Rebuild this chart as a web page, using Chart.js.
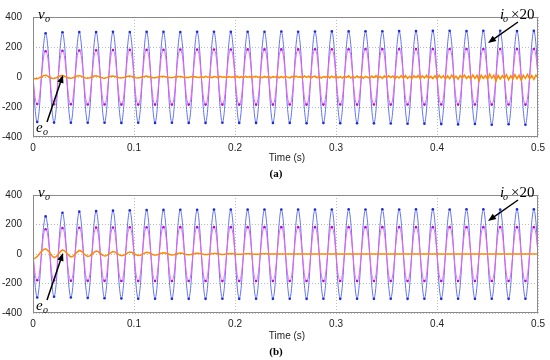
<!DOCTYPE html>
<html>
<head>
<meta charset="utf-8">
<script src="https://cdn.jsdelivr.net/npm/chart.js@4.4.0/dist/chart.umd.min.js"></script>
<style>
  html, body { margin: 0; padding: 0; background: #fff; }
  .panel { position: absolute; left: 0; width: 550px; }
  #panelA { top: 0; height: 180px; }
  #panelB { top: 178px; height: 182px; }
</style>
</head>
<body>
<div class="panel" id="panelA"><canvas id="chartA"></canvas></div>
<div class="panel" id="panelB"><canvas id="chartB"></canvas></div>
<script>
// 8 samples per 60 Hz cycle
const samplesPerSecond = 480;
const xTicks = [0, 0.1, 0.2, 0.3, 0.4, 0.5];
const yTicks = [-400, -200, 0, 200, 400];

// wave shape inside one half cycle (0, 45, 90, 135 deg)
const voShape = [0, 0.71, 1, 0.71];
const ioShape = [0, 0.76, 1, 0.76];

// (a) extreme value of every half cycle
const voPeaksA = [
  -300, 292, -304, 298, -305, 300, -305, 300, -305, 301,
  -306, 300, -305, 301, -306, 301, -305, 300, -306, 302,
  -306, 302, -305, 301, -306, 302, -306, 302, -307, 303,
  -306, 302, -308, 303, -307, 304, -308, 304, -308, 305,
  -309, 305, -310, 306, -312, 306, -311, 308, -314, 308,
  -316, 306, -313, 308, -318, 308, -315, 306, -318, 308
];
const ioPeaksA = [
  -180, 172, -182, 175, -182, 177, -183, 178, -183, 180,
  -184, 181, -184, 182, -184, 182, -184, 183, -184, 183,
  -184, 183, -184, 183, -184, 184, -184, 184, -184, 184,
  -183, 184, -184, 185, -184, 185, -183, 185, -184, 186,
  -183, 186, -184, 186, -183, 186, -184, 187, -183, 187,
  -184, 187, -183, 186, -184, 187, -183, 187, -184, 187
];
// (a) e_o samples
const eoA = [
  -10, -12, -12, -6, 2, 8, 12, 6, -2, -8, -10, -6, 2, 8, 10, 5,
  -2, -7, -9, -5, 1, 7, 9, 5, -1, -6, -8, -5, 1, 6, 8, 4,
  -1, -6, -8, -4, 1, 5, 7, 4, -1, -5, -7, -4, 1, 5, 6, 3,
  -1, -5, -6, -3, 2, 4, 6, 2, -2, -5, -5, -2, 2, 4, 5, 1,
  -2, -4, -5, -1, 3, 4, 3, 0, -3, -4, -3, 1, 3, 2, -1, -3,
  2, -3, 4, -2, 1, -4, 3, 0, -3, 4, -2, 2, -4, 3, -1, 2,
  -3, 5, -4, 2, -5, 4, -1, 3, -5, 2, 4, -3, 1, -4, 5, -2,
  4, -6, 3, -2, 6, -5, 2, -4, 5, -1, -6, 4, -3, 6, -2, 3,
  -6, 7, -3, 5, -7, 2, 6, -5, 4, -7, 3, -2, 7, -6, 5, -4,
  7, -5, 3, -7, 6, -3, 8, -7, 2, -6, 7, -4, 5, -8, 4, -2,
  -8, 6, -4, 9, -7, 3, -9, 8, -5, 8, -3, 7, -10, 4, -6, 9,
  -8, 10, -9, 5, -11, 8, -4, 10, -10, 7, -6, 11, -9, 4, -10, 8,
  -10, 12, -6, 9, -13, 8, -11, 12, -9, 5, -14, 10, -7, 13, -10, 6,
  -12, 14, -9, 11, -24, 12, -10, 9, -14, 20, -9, 12, -28, 11, -13, 10,
  -10, 15, -18, 9, -13, 16, -11, 12, -22, 11, -9, 17, -12, 10, -16, 12,
  -5
];

// (b) extreme value of every half cycle
const voPeaksB = [
  -295, 255, -290, 280, -295, 287, -298, 291, -300, 294,
  -302, 296, -303, 298, -303, 299, -304, 300, -304, 300,
  -304, 301, -303, 301, -304, 301, -303, 302, -304, 302,
  -303, 302, -304, 302, -303, 302, -304, 303, -303, 302,
  -304, 303, -303, 302, -304, 303, -303, 303, -304, 302,
  -303, 303, -304, 303, -303, 302, -304, 303, -303, 303
];
const ioPeaksB = [
  -178, 168, -180, 176, -181, 178, -182, 179, -182, 180,
  -183, 181, -183, 181, -183, 182, -183, 182, -183, 182,
  -183, 182, -183, 182, -183, 182, -183, 182, -183, 182,
  -183, 182, -183, 182, -183, 182, -183, 182, -183, 182,
  -183, 182, -183, 182, -183, 182, -183, 182, -183, 182,
  -183, 182, -183, 182, -183, 182, -183, 182, -183, 182
];
// (b) e_o samples
const eoB = [
  -35, -28, -18, 0, 18, 30, 35, 25, 8, -12, -24, -18, -2, 16, 28, 22,
  6, -10, -20, -16, -2, 13, 24, 19, 5, -8, -17, -13, -1, 11, 20, 16,
  4, -7, -14, -11, -1, 9, 17, 13, 3, -6, -12, -9, -1, 8, 14, 11,
  3, -5, -10, -8, -1, 6, 11, 9, 2, -4, -8, -6, 0, 5, 9, 7,
  2, -3, -6, -5, 0, 4, 7, 5, 1, -3, -5, -4, 0, 3, 5, 4,
  1, -2, -4, -3, 0, 2, 4, 3, 1, -1, -3, -2, 0, 2, 3, 2,
  0, -1, -2, -2, 0, 1, 2, 2, 0, -1, -1, -1, 0, 1, 1, 1,
  0, 0, 0, 0, 0, 0, 0, 0, 0, 0, 0, 0, 0, 0, 0, 0,
  0, 0, 0, 0, 0, 0, 0, 0, 0, 0, 0, 0, 0, 0, 0, 0,
  0, 0, 0, 0, 0, 0, 0, 0, 0, 0, 0, 0, 0, 0, 0, 0,
  0, 0, 0, 0, 0, 0, 0, 0, 0, 0, 0, 0, 0, 0, 0, 0,
  0, 0, 0, 0, 0, 0, 0, 0, 0, 0, 0, 0, 0, 0, 0, 0,
  0, 0, 0, 0, 0, 0, 0, 0, 0, 0, 0, 0, 0, 0, 0, 0,
  0, 0, 0, 0, 0, 0, 0, 0, 0, 0, 0, 0, 0, 0, 0, 0,
  0, 0, 0, 0, 0, 0, 0, 0, 0, 0, 0, 0, 0, 0, 0, 0,
  0
];

function buildWave(peaks, shape) {
  const pts = [];
  peaks.forEach((p, j) => {
    shape.forEach((s, m) => {
      pts.push({ x: (j * shape.length + m) / samplesPerSecond, y: p * s });
    });
  });
  pts.push({ x: pts.length / samplesPerSecond, y: 0 });
  return pts;
}

function buildSeries(values) {
  return values.map((v, k) => ({ x: k / samplesPerSecond, y: v }));
}

function drawArrow(ctx, x1, y1, x2, y2) {
  const ang = Math.atan2(y2 - y1, x2 - x1);
  const len = 8, half = 3.2;
  ctx.beginPath();
  ctx.moveTo(x1, y1);
  ctx.lineTo(x2 - Math.cos(ang) * len * 0.8, y2 - Math.sin(ang) * len * 0.8);
  ctx.stroke();
  ctx.beginPath();
  ctx.moveTo(x2, y2);
  ctx.lineTo(x2 - Math.cos(ang) * len - Math.sin(ang) * half, y2 - Math.sin(ang) * len + Math.cos(ang) * half);
  ctx.lineTo(x2 - Math.cos(ang) * len + Math.sin(ang) * half, y2 - Math.sin(ang) * len - Math.cos(ang) * half);
  ctx.closePath();
  ctx.fill();
}

// frame, labels and arrows
const notesPlugin = {
  id: 'notes',
  afterDraw(chart, args, opts) {
    const { ctx, chartArea: a } = chart;
    ctx.save();
    ctx.strokeStyle = '#8a8a8a';
    ctx.lineWidth = 1;
    ctx.strokeRect(a.left + 0.5, a.top + 0.5, a.right - a.left - 1, a.bottom - a.top - 1);

    ctx.fillStyle = '#000';
    ctx.textBaseline = 'alphabetic';
    ctx.textAlign = 'left';
    ctx.font = 'italic 15px "Liberation Serif", serif';
    ctx.fillText('v', 38, 19);
    ctx.fillText('e', 36, 132);
    ctx.fillText('i', 500, 19);
    ctx.font = 'italic 10px "Liberation Serif", serif';
    ctx.fillText('o', 45, 22);
    ctx.fillText('o', 43, 135);
    ctx.fillText('o', 503, 22);
    ctx.font = '15px "Liberation Serif", serif';
    ctx.fillText('\u00d720', 511, 19);

    ctx.strokeStyle = '#000';
    ctx.lineWidth = 1.5;
    drawArrow(ctx, 47, 122, 63, 75);
    drawArrow(ctx, 518, 22, 488, 43);

    ctx.textAlign = 'center';
    ctx.textBaseline = 'middle';
    ctx.fillStyle = '#222';
    ctx.font = '10px "Liberation Sans", Arial, sans-serif';
    ctx.fillText('Time (s)', 287, 158);
    ctx.fillStyle = '#000';
    ctx.font = 'bold 11px "Liberation Serif", serif';
    ctx.fillText(opts.tag, 276, 174);
    ctx.restore();
  }
};

function makeChart(id, tag, voPeaks, ioPeaks, eo, xHeight) {
  const markerRadius = c => (c.dataIndex % 4 === 2 ? 1.3 : 0);
  return new Chart(document.getElementById(id), {
    type: 'line',
    data: {
      datasets: [
        {
          label: 'e_o',
          data: buildSeries(eo),
          borderColor: '#ff8a00',
          borderWidth: 1.5,
          pointRadius: 0,
          tension: 0,
          order: 0
        },
        {
          label: 'i_o x20',
          data: buildWave(ioPeaks, ioShape),
          borderColor: '#f25cf2',
          borderWidth: 1,
          pointRadius: markerRadius,
          pointBackgroundColor: '#b010c8',
          pointBorderWidth: 0,
          cubicInterpolationMode: 'monotone',
          order: 1
        },
        {
          label: 'v_o',
          data: buildWave(voPeaks, voShape),
          borderColor: '#6272f2',
          borderWidth: 1,
          pointRadius: markerRadius,
          pointBackgroundColor: '#1a2bd0',
          pointBorderWidth: 0,
          cubicInterpolationMode: 'monotone',
          order: 2
        }
      ]
    },
    options: {
      responsive: true,
      maintainAspectRatio: false,
      animation: false,
      events: [],
      layout: { padding: { top: 8, right: 8, left: 0, bottom: 0 } },
      plugins: {
        legend: { display: false },
        tooltip: { enabled: false },
        notes: { tag: tag }
      },
      scales: {
        x: {
          type: 'linear',
          min: xTicks[0],
          max: xTicks[xTicks.length - 1],
          afterBuildTicks: s => { s.ticks = xTicks.map(v => ({ value: v })); },
          afterFit: s => { s.height = xHeight; },
          grid: { color: '#bdbdbd', drawTicks: false },
          border: { display: false, dash: [1, 2] },
          ticks: {
            padding: 5,
            color: '#222',
            font: { family: '"Liberation Sans", Arial, sans-serif', size: 10 },
            callback: v => (v === 0 ? '0' : v.toFixed(1))
          }
        },
        y: {
          min: yTicks[0],
          max: yTicks[yTicks.length - 1],
          afterBuildTicks: s => { s.ticks = yTicks.map(v => ({ value: v })); },
          afterFit: s => { s.width = 33; },
          grid: { color: '#bdbdbd', drawTicks: false },
          border: { display: false, dash: [1, 2] },
          ticks: {
            padding: 11,
            color: '#222',
            font: { family: '"Liberation Sans", Arial, sans-serif', size: 10 }
          }
        }
      }
    },
    plugins: [notesPlugin]
  });
}

makeChart('chartA', '(a)', voPeaksA, ioPeaksA, eoA, 43);
makeChart('chartB', '(b)', voPeaksB, ioPeaksB, eoB, 47);
</script>
</body>
</html>
